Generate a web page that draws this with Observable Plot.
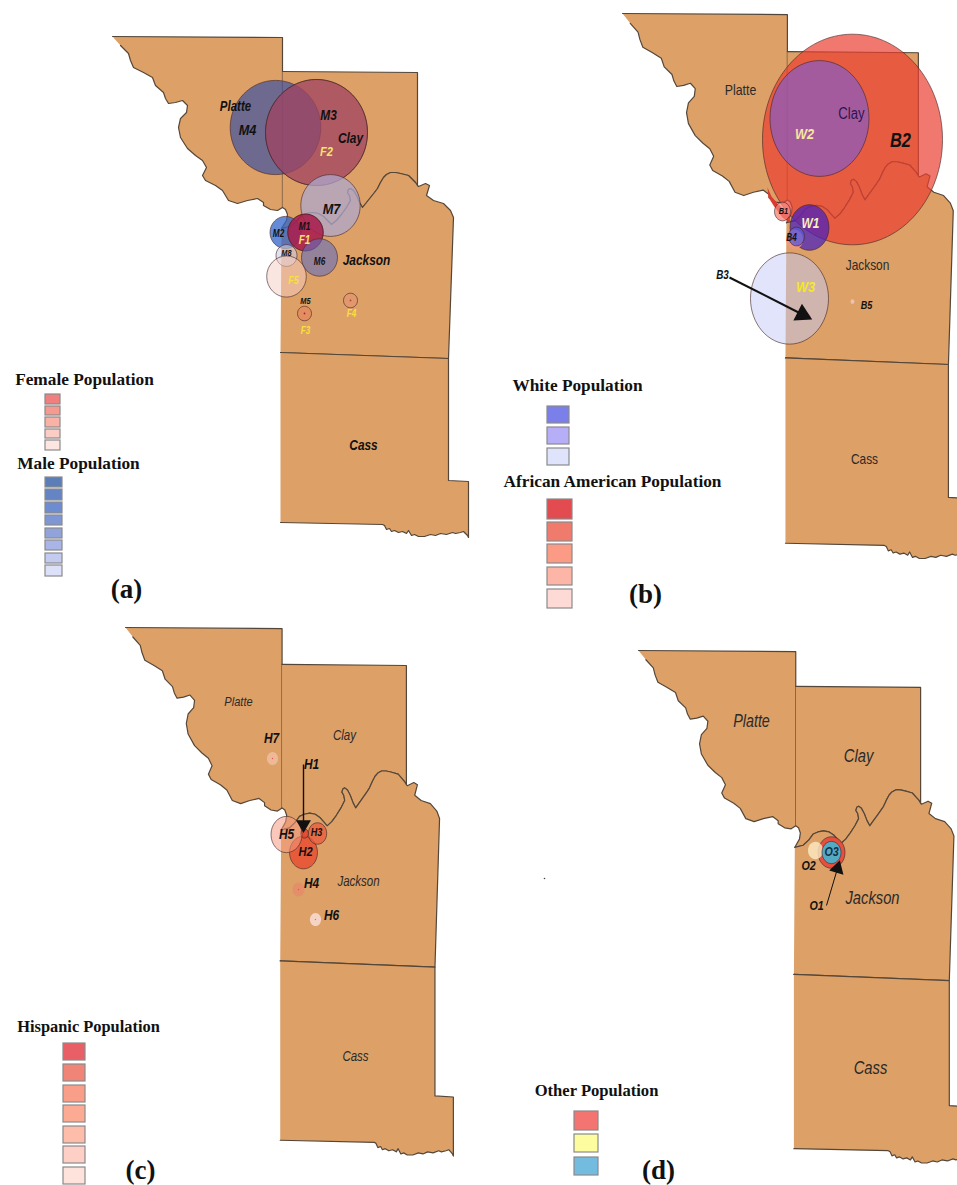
<!DOCTYPE html>
<html>
<head>
<meta charset="utf-8">
<style>
html,body{margin:0;padding:0;background:#fff;overflow:hidden}
svg{display:block}
</style>
<script src="https://cdn.jsdelivr.net/npm/d3@7"></script>
<script src="https://cdn.jsdelivr.net/npm/@observablehq/plot@0.6"></script>
</head>
<body>
<div id="chart"></div>
<script>
// County outlines
const river = [[281,228],[290,226],[296,221],[301,215],[306,213],[312,212],[318,213],[323,216],[327,220],[331,224],[336,220],[341,214],[346,207],[350,200],[349,195],[347,192],[348,189],[350,188],[353,190],[356,195],[359,202],[362,207],[366,202],[370,197],[374,192],[377,188],[380,182],[383,177],[386,174],[390,172],[395,172],[400,173],[408,175],[412,179],[415,182],[417,185]];
const platte = [[112,36],[282,37],[282,207],[277,210],[270,209],[263,205],[263,202],[257,198],[247,200],[237,203],[228,200],[222,190],[215,185],[205,180],[202,175],[206,167],[202,160],[195,155],[187,148],[180,137],[178,127],[180,118],[186,112],[187,105],[182,100],[175,102],[168,103],[165,98],[163,92],[155,85],[152,77],[143,72],[133,67],[130,60],[128,53],[120,45]];
const clayEdge = [[282,71],[417,72]];
const clayWest = [[282,207],[285,209],[287,214],[286,220]];
const jacksonEast = [[418,186],[425,183],[429,185],[426,195],[433,200],[443,203],[450,210],[453,217],[448,358],[280,352]];
const cass = [[280,352],[448,358],[448,480],[468,481],[468,537],[467,535],[463,531],[460,532],[455,533],[452,532],[446,534],[440,533],[435,535],[430,534],[424,536],[418,536],[414,534],[411,535],[408,530],[406,533],[402,531],[398,532],[394,530],[391,531],[389,528],[386,529],[384,525],[382,524],[280,522]];
const clay = [...clayEdge, ...[...river].reverse(), ...[...clayWest].reverse()];
const jackson = [...river, ...jacksonEast];
const counties = [["Platte", platte], ["Clay", clay], ["Jackson", jackson], ["Cass", cass]];

// Where the outline sits in each panel
const panelNames = ["a", "b", "c", "d"];
const panelLeft = [112, 622, 125, 638];
const panelTop = [36, 13, 627, 650];
const panelScaleX = [1, 0.97, 0.921, 0.925];
const panelScaleY = [1, 1.09, 1.055, 1.025];

const mapRows = panelNames.flatMap((p, i) => counties.flatMap(([name, pts]) => pts.map(([x, y]) => ({
  key: p + name,
  x: panelLeft[i] + (x - 112) * panelScaleX[i],
  y: panelTop[i] + (y - 36) * panelScaleY[i]
}))));

// Symbols (name, x, y, radius, fill, opacity)
const circlesA = [
  ["M4",275,127,45.3,"rgb(50,75,165)",0.65],
  ["M3",316,132,51,"rgb(50,75,165)",0.4],
  ["F2",316,132,51,"rgb(190,65,80)",0.6],
  ["M7",330,205,29.7,"rgb(174,167,206)",0.75],
  ["M2",285,232,15.5,"rgb(50,100,200)",0.75],
  ["M1",305,232,17.7,"rgb(50,70,150)",0.6],
  ["F1",305,232,17.7,"rgb(200,20,60)",0.7],
  ["M6",319,257,18,"rgb(100,110,190)",0.6],
  ["M8",286,255,10.5,"rgb(205,205,230)",0.6],
  ["F5",286,276,19.8,"rgb(245,205,195)",0.5],
  ["M5",304,313,7,"rgb(235,120,90)",0.45],
  ["F4",350,300,7,"rgb(235,140,120)",0.4],
  ["M5c",304,313,0.9,"rgb(160,40,40)",1],
  ["F4c",350,300,0.9,"rgb(180,70,60)",1]
];
const bigCircleB = [["B2",852,139,90,"rgb(235,62,48)",0.7]];
const crescentB = [[767,187],[771,196],[777,203],[783,209],[788,213],[790,223],[782,217],[773,205],[768,197]];
const circlesB = [
  ["W2",819,118,49.5,"rgb(120,90,220)",0.6],
  ["B1",782,211,8,"rgb(245,130,120)",0.75],
  ["W1",809,227,19.5,"rgb(70,30,190)",0.72],
  ["B4b",794,239,8.5,"rgb(245,150,130)",0.8],
  ["B4",796,236,8,"rgb(90,90,220)",0.75],
  ["W3",789,298,39,"rgb(195,201,245)",0.5],
  ["B3",808,316,2,"rgb(245,130,130)",0.8],
  ["B5",852,301,2,"rgb(245,200,200)",0.8]
];
const circlesC = [
  ["H2",303,852,14,"rgb(232,80,50)",0.85],
  ["H1",304,833,4,"rgb(225,70,50)",0.9],
  ["H3",317,833,9.2,"rgb(232,90,60)",0.75],
  ["H5",286,834,15.5,"rgb(246,155,130)",0.55],
  ["H7",272,758,5.6,"rgb(250,205,190)",0.55],
  ["H4",298,889,6,"rgb(235,130,110)",0.55],
  ["H6",315,919,5.6,"rgb(253,225,220)",0.8],
  ["H7c",272,758,0.7,"rgb(220,90,80)",1],
  ["H4c",298,889,0.7,"rgb(220,90,80)",1],
  ["H6c",315,919,0.7,"rgb(220,110,110)",1]
];
const circlesD = [
  ["O1",831,852,13.5,"rgb(228,75,60)",0.95],
  ["O2",815,850,7.5,"rgb(252,235,195)",0.8],
  ["O3",831,852,9.5,"rgb(85,170,195)",1]
];
const noOutline = ["H7","H4","H6","O2","B3","B5","B4b"];
const aspectA = 1.04, aspectB = 1.17, aspectC = 1.17, aspectD = 1.17;

// Call-outs (name, from, to, line weight, head angle, head size)
const arrows = [
  ["B3",729,277,802,314,2,117,7],
  ["H1",303,764,303,824,1.4,180,5.5],
  ["O1",826,905,837,868,1,16,5.5]
];
const strayDot = [[544,878]];

// Map labels (text, x, y, size, colour)
const boldItalic = [
  ["Platte",235,106,14,"#111"],["M4",247,130,15.5,"#111"],["M3",328,115,14.5,"#111"],["Clay",350,138,14.5,"#111"],
  ["M7",331,209,15.5,"#111"],["M1",304,226,10,"#111"],["M2",278,233,10,"#111"],["M8",286,253,9,"#111"],
  ["M6",319,261,10,"#111"],["Jackson",366,260,14.5,"#111"],["M5",305,301,9,"#111"],["Cass",363,445,14.5,"#111"],
  ["F2",326,151,13.5,"#f5e36a"],["F1",304,240,12,"#f5e36a"],["F5",293,280,11,"#f5e040"],["F3",305,330,10,"#f5e040"],["F4",351,313,10,"#f5e040"],
  ["W2",804,134,15.5,"#f5e6a0"],["W1",810,223,14.5,"#f7f0c0"],["W3",805,287,15.5,"#f5e820"],
  ["B2",900,140,20,"#111"],["B1",783,211,9,"#111"],["B4",791,237,10,"#111"],["B3",722,275,12,"#111"],["B5",866,305,11,"#111"],
  ["H7",271,738,14.5,"#111"],["H1",311,764,14.5,"#111"],["H5",286,834,14.5,"#111"],["H3",316,832,11,"#111"],["H2",305,851,13.5,"#111"],["H4",311,883,14.5,"#111"],["H6",331,915,14.5,"#111"],
  ["O3",831,851,13,"#12304a"],["O2",808,865,13,"#111"],["O1",816,905,13,"#111"]
];
const plain = [
  ["Platte",740,90,15,"#2a2a2a"],["Clay",851,113,16,"#2c1450"],["Jackson",867,265,14.5,"#2a2a2a"],["Cass",864,459,14.5,"#2a2a2a"]
];
const italic = [
  ["Platte",238,701,13.5,"#2a2a2a"],["Clay",344,735,14,"#2a2a2a"],["Jackson",358,881,14,"#2a2a2a"],["Cass",355,1056,14,"#2a2a2a"],
  ["Platte",751,721,17.5,"#2a2a2a"],["Clay",858,756,18,"#2a2a2a"],["Jackson",872,898,18,"#2a2a2a"],["Cass",870,1068,18,"#2a2a2a"]
];

// Legend titles and panel letters
const legendTitles = [
  ["Female Population",84,379,17.3],["Male Population",78,463,17.3],
  ["White Population",577,385,17.3],["African American Population",612,481,17.3],
  ["Hispanic Population",88,1026,16.4],["Other Population",596,1090,16.6]
];
const panelLetters = [["(a)",126,589],["(b)",645,594],["(c)",140,1170],["(d)",658,1170]];

// Legend swatches (left, right, top, bottom, colour)
const femaleLegend = [[45,60,394,404,"#F08080"],[45,60,406,415,"#F59A90"],[45,60,417,427,"#F9B2A5"],[45,60,429,438,"#FCCDC5"],[45,60,440,450,"#FDE5E2"]];
const maleLegend = [[45,62,477,487,"#5B7DB8"],[45,62,489,500,"#6484C4"],[45,62,502,513,"#6E8CD0"],[45,62,515,525,"#7F96D4"],[45,62,528,538,"#92A3DC"],[45,62,540,550,"#A9B5E6"],[45,62,553,563,"#C4CBF0"],[45,62,565,576,"#DDE0F9"]];
const whiteLegend = [[547,569,406,423,"#7B7FEA"],[547,569,427,444,"#B7AEF8"],[547,569,448,465,"#DFE3FB"]];
const blackLegend = [[547,572,499,519,"#E24B50"],[547,572,522,541,"#F07A6C"],[547,572,544,563,"#FB9A85"],[547,572,567,585,"#FDB5A8"],[547,572,589,608,"#FEDAD6"]];
const hispanicLegend = [[63,85,1043,1060,"#E85F65"],[63,85,1064,1081,"#F08477"],[63,85,1085,1102,"#F99E88"],[63,85,1105,1122,"#FDAA95"],[63,85,1126,1143,"#FEBCAA"],[63,85,1146,1163,"#FECFC5"],[63,85,1167,1184,"#FEE2DC"]];
const otherLegend = [[574,598,1111,1130,"#F47472"],[574,598,1134,1152,"#FDFD9F"],[574,598,1157,1175,"#74BCDF"]];
const legendRows = [femaleLegend, maleLegend, whiteLegend, blackLegend, hispanicLegend, otherLegend].flat();

// Elliptical dot: panels are stretched vertically by slightly different amounts
const ellipse = k => ({
  draw(ctx, size) {
    const r = Math.sqrt(size / Math.PI), c = 0.5523;
    ctx.moveTo(r, 0);
    ctx.bezierCurveTo(r, k * c * r, c * r, k * r, 0, k * r);
    ctx.bezierCurveTo(-c * r, k * r, -r, k * c * r, -r, 0);
    ctx.bezierCurveTo(-r, -k * c * r, -c * r, -k * r, 0, -k * r);
    ctx.bezierCurveTo(c * r, -k * r, r, -k * c * r, r, 0);
    ctx.closePath();
  }
});

const dots = (rows, k) => Plot.dot(rows, {
  x: d => d[1], y: d => d[2], r: d => d[3],
  fill: d => d[4], fillOpacity: d => d[5],
  stroke: d => d[3] < 1.5 || noOutline.includes(d[0]) ? "none" : "rgba(70,40,40,0.7)",
  strokeWidth: 0.9, symbol: ellipse(k), sort: null
});

const labels = (rows, style) => Plot.text(rows, {
  x: d => d[1], y: d => d[2], text: d => d[0],
  fontSize: d => d[3], fill: d => d[4],
  fontFamily: "Liberation Sans", className: "maplabel", ...style
});

const chart = Plot.plot({
  width: 957, height: 1185, margin: 0,
  x: {domain: [0, 957], range: [0, 957], axis: null},
  y: {domain: [0, 1185], range: [0, 1185], axis: null},
  r: {type: "identity"},
  opacity: {type: "identity"},
  style: {background: "#fff"},
  marks: [
    Plot.line(mapRows, {x: "x", y: "y", z: "key", fill: "#DDA066", stroke: "#54473a", strokeWidth: 1.2, strokeLinejoin: "round"}),
    dots(circlesA, aspectA),
    dots(bigCircleB, aspectB),
    Plot.line(crescentB, {x: d => d[0], y: d => d[1], fill: "#DC3B30", stroke: "none"}),
    dots(circlesB, aspectB),
    dots(circlesC, aspectC),
    dots(circlesD, aspectD),
    Plot.dot(strayDot, {x: d => d[0], y: d => d[1], r: 0.8, fill: "#444", stroke: "none"}),
    Plot.link(arrows, {x1: d => d[1], y1: d => d[2], x2: d => d[3], y2: d => d[4], strokeWidth: d => d[5], stroke: "#111"}),
    Plot.dot(arrows, {x: d => d[3], y: d => d[4], symbol: "triangle", r: d => d[7], rotate: d => d[6], fill: "#111", stroke: "none", sort: null}),
    labels(boldItalic, {fontWeight: "bold", fontStyle: "italic"}),
    labels(plain, {}),
    labels(italic, {fontStyle: "italic"}),
    Plot.rect(legendRows, {x1: d => d[0], x2: d => d[1], y1: d => d[2], y2: d => d[3], fill: d => d[4], stroke: "#8a8a8a", strokeWidth: 1.2}),
    Plot.text(legendTitles, {x: d => d[1], y: d => d[2], text: d => d[0], fontSize: d => d[3], fontFamily: "Liberation Serif", fontWeight: "bold", fill: "#111"}),
    Plot.text(panelLetters, {x: d => d[1], y: d => d[2], text: d => d[0], fontSize: 27, fontFamily: "Liberation Serif", fontWeight: "bold", fill: "#111"})
  ]
});
document.getElementById("chart").append(chart);

// The reference's map labels are set in a condensed face: squeeze the glyphs to match
const labelSqueeze = 0.82;
d3.select(chart).selectAll(".maplabel text").each(function () {
  this.setAttribute("textLength", this.getComputedTextLength() * labelSqueeze);
  this.setAttribute("lengthAdjust", "spacingAndGlyphs");
});
</script>
</body>
</html>
